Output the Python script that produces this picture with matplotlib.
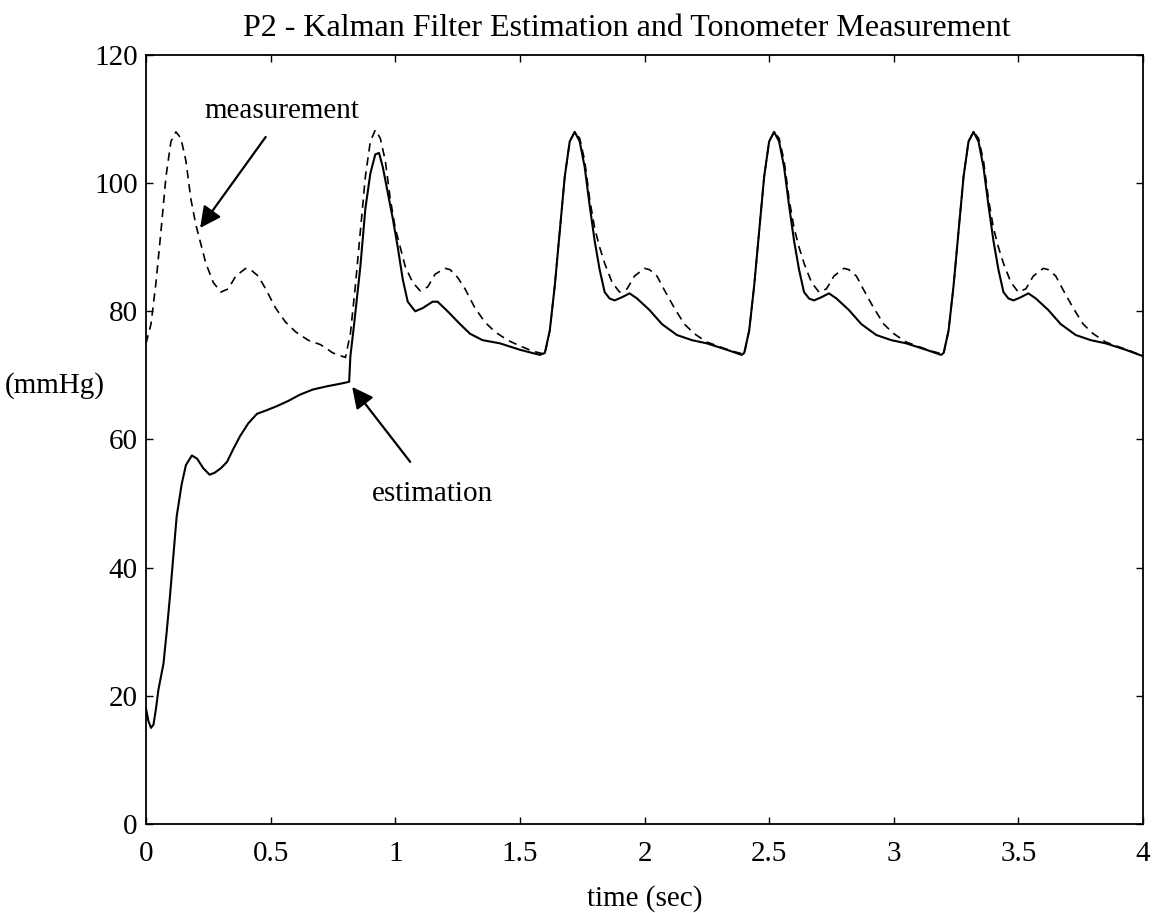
import numpy as np
import matplotlib.pyplot as plt

plt.rcParams['font.family'] = ['Liberation Serif', 'DejaVu Serif']

meas_t = [0.00, 0.02, 0.04, 0.06, 0.08, 0.10, 0.12, 0.14, 0.16, 0.18, 0.20, 0.22, 0.24, 0.27, 0.30,
          0.33, 0.36, 0.40, 0.42, 0.45, 0.48, 0.52, 0.56, 0.60, 0.65, 0.70, 0.75,
          0.80, 0.82, 0.84, 0.86, 0.88, 0.90, 0.92, 0.94, 0.96, 0.98, 1.00, 1.02, 1.04, 1.07, 1.10,
          1.13, 1.16, 1.20, 1.22, 1.25, 1.28, 1.32, 1.36, 1.40, 1.45, 1.50, 1.55,
          1.60, 1.62, 1.64, 1.66, 1.68, 1.70, 1.72, 1.74, 1.76, 1.78, 1.80, 1.82, 1.84, 1.87, 1.90,
          1.93, 1.96, 2.00, 2.02, 2.05, 2.08, 2.12, 2.16, 2.20, 2.25, 2.30, 2.35,
          2.40, 2.42, 2.44, 2.46, 2.48, 2.50, 2.52, 2.54, 2.56, 2.58, 2.60, 2.62, 2.64, 2.67, 2.70,
          2.73, 2.76, 2.80, 2.82, 2.85, 2.88, 2.92, 2.96, 3.00, 3.05, 3.10, 3.15,
          3.20, 3.22, 3.24, 3.26, 3.28, 3.30, 3.32, 3.34, 3.36, 3.38, 3.40, 3.42, 3.44, 3.47, 3.50,
          3.53, 3.56, 3.60, 3.62, 3.65, 3.68, 3.72, 3.76, 3.80, 3.85, 3.90, 3.95, 4.00]
meas_v = [75.0, 78.0, 84.5, 92.5, 101.0, 106.5, 108.0, 107.0, 103.5, 97.5, 93.5, 90.5, 87.5, 84.5, 83.0,
          83.5, 85.5, 86.7, 86.5, 85.5, 83.5, 80.5, 78.3, 76.8, 75.5, 74.8, 73.5,
          72.8, 76.5, 84.0, 92.5, 101.0, 106.5, 108.3, 107.0, 103.5, 97.5, 93.0, 90.0, 87.0, 84.5, 83.2,
          83.8, 85.8, 86.7, 86.5, 85.3, 83.5, 80.5, 78.3, 76.8, 75.5, 74.6, 73.8,
          73.3, 77.0, 84.0, 92.5, 101.0, 106.5, 108.0, 107.0, 103.5, 97.5, 93.0, 90.0, 87.5, 84.5, 83.0,
          83.5, 85.5, 86.7, 86.5, 85.5, 83.3, 80.5, 78.0, 76.5, 75.2, 74.5, 73.8,
          73.3, 77.0, 84.0, 92.5, 101.0, 106.5, 108.0, 107.0, 103.5, 97.5, 93.0, 90.0, 87.5, 84.5, 83.0,
          83.5, 85.5, 86.7, 86.5, 85.5, 83.3, 80.5, 78.0, 76.5, 75.2, 74.5, 73.8,
          73.3, 77.0, 84.0, 92.5, 101.0, 106.5, 108.0, 107.0, 103.5, 97.5, 93.0, 90.0, 87.5, 84.5, 83.0,
          83.5, 85.5, 86.7, 86.5, 85.5, 83.3, 80.5, 78.0, 76.5, 75.2, 74.5, 73.8, 73.0]

# Kalman filter estimation (solid)
est_t = [0.000, 0.010, 0.020, 0.030, 0.040, 0.050, 0.060, 0.070, 0.083, 0.096, 0.109, 0.123, 0.143,
         0.160, 0.184, 0.205, 0.230, 0.255, 0.275, 0.300, 0.325, 0.350, 0.377, 0.410, 0.445, 0.480,
         0.525, 0.570, 0.618, 0.670, 0.726, 0.780, 0.815, 0.820, 0.835, 0.860, 0.880, 0.900, 0.920,
         0.935, 0.950, 0.970, 0.990, 1.010, 1.030, 1.050, 1.080, 1.110, 1.150, 1.170, 1.210, 1.260,
         1.300, 1.350, 1.420, 1.500, 1.580,
         1.60, 1.62, 1.64, 1.66, 1.68, 1.70, 1.72, 1.74, 1.76, 1.78, 1.80, 1.82, 1.84, 1.86, 1.88,
         1.91, 1.94, 1.97, 2.02, 2.07, 2.13, 2.19, 2.25, 2.33, 2.39,
         2.40, 2.42, 2.44, 2.46, 2.48, 2.50, 2.52, 2.54, 2.56, 2.58, 2.60, 2.62, 2.64, 2.66, 2.68,
         2.71, 2.74, 2.77, 2.82, 2.87, 2.93, 2.99, 3.05, 3.13, 3.19,
         3.20, 3.22, 3.24, 3.26, 3.28, 3.30, 3.32, 3.34, 3.36, 3.38, 3.40, 3.42, 3.44, 3.46, 3.48,
         3.51, 3.54, 3.57, 3.62, 3.67, 3.73, 3.79, 3.85, 3.93, 4.00]
est_v = [18.0, 16.0, 15.0, 15.5, 18.0, 21.0, 23.0, 25.0, 30.0, 35.5, 41.5, 48.0, 53.0,
         56.0, 57.5, 57.0, 55.5, 54.5, 54.8, 55.5, 56.5, 58.5, 60.5, 62.5, 64.0, 64.5,
         65.2, 66.0, 67.0, 67.8, 68.3, 68.7, 69.0, 73.0, 78.0, 87.0, 96.0, 101.5, 104.5,
         104.7, 102.5, 98.5, 94.5, 90.0, 85.0, 81.5, 80.0, 80.5, 81.5, 81.5, 80.0, 78.0,
         76.5, 75.5, 75.0, 74.0, 73.2,
         73.5, 77.0, 84.0, 92.5, 101.0, 106.5, 108.0, 106.5, 102.5, 96.5, 91.0, 86.5, 83.0, 82.0, 81.7,
         82.2, 82.8, 82.0, 80.2, 78.0, 76.3, 75.5, 75.0, 74.0, 73.2,
         73.5, 77.0, 84.0, 92.5, 101.0, 106.5, 108.0, 106.5, 102.5, 96.5, 91.0, 86.5, 83.0, 82.0, 81.7,
         82.2, 82.8, 82.0, 80.2, 78.0, 76.3, 75.5, 75.0, 74.0, 73.2,
         73.5, 77.0, 84.0, 92.5, 101.0, 106.5, 108.0, 106.5, 102.5, 96.5, 91.0, 86.5, 83.0, 82.0, 81.7,
         82.2, 82.8, 82.0, 80.2, 78.0, 76.3, 75.5, 75.0, 74.0, 73.0]

x_ticks = [0, 0.5, 1, 1.5, 2, 2.5, 3, 3.5, 4]
x_labels = ['0', '0.5', '1', '1.5', '2', '2.5', '3', '3.5', '4']
y_ticks = [0, 20, 40, 60, 80, 100, 120]
y_labels = ['0', '20', '40', '60', '80', '100', '120']

fig = plt.figure(figsize=(11.57, 9.13), dpi=100)
ax = fig.add_axes([0.1262, 0.0975, 0.8617, 0.8423])

ax.plot(est_t, est_v, color='black', lw=1.5)
ax.plot(meas_t, meas_v, color='black', lw=1.2, linestyle=(0, (5, 3.5)))

ax.set_xlim(0, 4)
ax.set_ylim(0, 120)
ax.set_xticks(x_ticks)
ax.set_xticklabels(x_labels)
ax.set_yticks(y_ticks)
ax.set_yticklabels(y_labels)
ax.tick_params(direction='in', top=True, right=True, length=5, width=1, labelsize=21)
ax.tick_params(axis='x', pad=12)
ax.tick_params(axis='y', pad=6)
for sp in ax.spines.values():
    sp.set_linewidth(1.3)

fig.text(0.542, 0.985, 'P2 - Kalman Filter Estimation and Tonometer Measurement',
         fontsize=23, ha='center', va='top')
ax.set_xlabel('time (sec)', fontsize=21, labelpad=13)
fig.text(0.004, 0.578, '(mmHg)', fontsize=21, ha='left', va='center')

arrow = dict(arrowstyle='-|>', color='black', lw=1.6, mutation_scale=32, shrinkA=0, shrinkB=0)
ax.text(0.546, 111.2, 'measurement', fontsize=21, ha='center', va='center')
ax.annotate('', xy=(0.217, 93), xytext=(0.48, 107.2), arrowprops=arrow)
ax.text(0.907, 51.5, 'estimation', fontsize=21, ha='left', va='center')
ax.annotate('', xy=(0.827, 68.2), xytext=(1.06, 56.5), arrowprops=arrow)

fig.savefig('out.png', dpi=100)
